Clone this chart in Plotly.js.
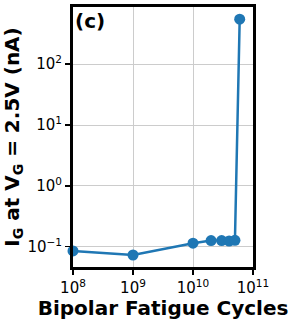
<!DOCTYPE html>
<html><head><meta charset="utf-8">
<script src="https://cdn.plot.ly/plotly-3.0.1.min.js"></script>
<style>html,body{margin:0;padding:0;background:#fff}#plot{width:291px;height:320px}</style>
</head><body><div id="plot"></div>
<script>
var cycles = [1e8, 1e9, 1e10, 2e10, 3e10, 4e10, 5e10, 6e10];
var gateCurrent = [0.085, 0.073, 0.114, 0.126, 0.126, 0.124, 0.127, 550];
var xTickVals = [1e8, 1e9, 1e10, 1e11];
var xTickLabels = ["10<sup>8</sup>", "10<sup>9</sup>", "10<sup>10</sup>", "10<sup>11</sup>"];
var yTickVals = [0.1, 1, 10, 100];
var yTickLabels = ["10<sup>−1</sup>", "10<sup>0</sup>", "10<sup>1</sup>", "10<sup>2</sup>"];
var panelLabel = "(c)";
var xTitle = "Bipolar Fatigue Cycles";
var yTitle = "I<sub>G</sub> at V<sub>G</sub> = 2.5V (nA)";

var trace = {
  x: cycles, y: gateCurrent, type: 'scatter', mode: 'lines+markers',
  line: {color: '#1f77b4', width: 2.5},
  marker: {color: '#1f77b4', size: 11},
  cliponaxis: false
};
var axisCommon = {
  type: 'log', showline: true, mirror: true, linecolor: '#000', linewidth: 3,
  ticks: 'outside', ticklen: 5, tickwidth: 1.5, tickcolor: '#000',
  showgrid: true, gridcolor: '#cccccc', gridwidth: 1, zeroline: false,
  tickmode: 'array',
  tickfont: {family: 'DejaVu Sans', size: 15, color: '#000'}
};
var titleFont = {family: 'DejaVu Sans', size: 20, color: '#000', weight: 'bold'};
var layout = {
  width: 291, height: 320,
  margin: {l: 73, r: 38, t: 7, b: 53},
  paper_bgcolor: '#fff', plot_bgcolor: '#fff',
  showlegend: false,
  xaxis: Object.assign({}, axisCommon, {
    range: [8, 11], tickvals: xTickVals, ticktext: xTickLabels,
    title: {text: xTitle, font: titleFont, standoff: 0}
  }),
  yaxis: Object.assign({}, axisCommon, {
    range: [-1.334, 2.94], tickvals: yTickVals, ticktext: yTickLabels,
    title: {text: yTitle, font: titleFont, standoff: 4}
  }),
  annotations: [{
    text: panelLabel, xref: 'paper', yref: 'paper', x: 0.0, y: 1.0,
    xanchor: 'left', yanchor: 'top', showarrow: false,
    font: {family: 'DejaVu Sans', size: 20, color: '#000', weight: 'bold'}
  }]
};
Plotly.newPlot('plot', [trace], layout, {staticPlot: true, displayModeBar: false});
</script></body></html>
